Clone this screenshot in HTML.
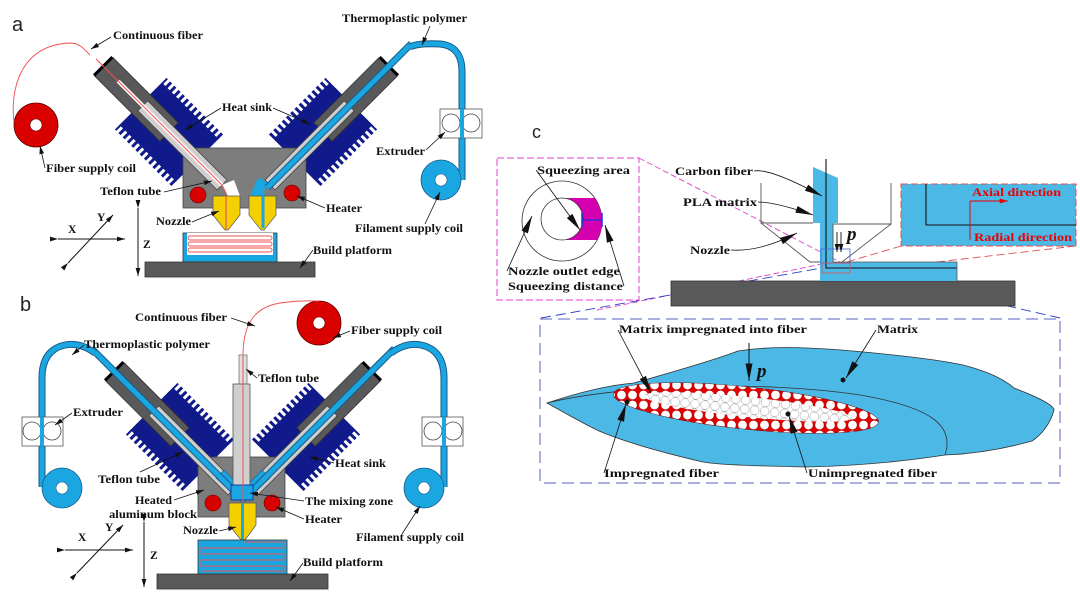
<!DOCTYPE html>
<html><head><meta charset="utf-8"><style>
html,body{margin:0;padding:0;background:#fff}
svg{display:block}
.t{font-family:"Liberation Serif",serif;font-weight:bold;font-size:11.5px;fill:#111}
.l{stroke:#111;stroke-width:0.8;fill:none}
</style></head><body>
<svg width="1080" height="597" viewBox="0 0 1080 597" xmlns="http://www.w3.org/2000/svg">
<defs>
<marker id="ah" viewBox="0 0 10 6" refX="10" refY="3" markerWidth="8" markerHeight="5" markerUnits="userSpaceOnUse" orient="auto"><path d="M0,0 L10,3 L0,6z" fill="#111"/></marker>
<marker id="wd" viewBox="0 0 20 8" refX="20" refY="4" markerWidth="20" markerHeight="7" markerUnits="userSpaceOnUse" orient="auto"><path d="M0,0 L20,4 L0,8z" fill="#111"/></marker>
<marker id="ra" viewBox="0 0 10 6" refX="10" refY="3" markerWidth="9" markerHeight="5" markerUnits="userSpaceOnUse" orient="auto"><path d="M0,0 L10,3 L0,6z" fill="#e00"/></marker>
<g id="sink">
 <rect x="35" y="-30" width="80" height="60" fill="#101a8a"/>
 <line x1="35" y1="-33" x2="115" y2="-33" stroke="#101a8a" stroke-width="7" stroke-dasharray="3 3"/>
 <line x1="35" y1="33" x2="115" y2="33" stroke="#101a8a" stroke-width="7" stroke-dasharray="3 3"/>
 <rect x="75" y="-13" width="92" height="26" fill="#595959" stroke="#333" stroke-width="0.8"/>
 <line x1="168" y1="-13" x2="168" y2="13" stroke="#000" stroke-width="3"/>
</g>
<g id="tube"><rect x="0" y="-7" width="112" height="14" fill="#cfcfcf" stroke="#444" stroke-width="0.8"/></g>
<g id="fil"><line x1="-4" y1="0" x2="200" y2="0" stroke="#1a5a8a" stroke-width="7"/><line x1="-4" y1="0" x2="200" y2="0" stroke="#1aa6e0" stroke-width="5"/></g>
<pattern id="dots" width="11" height="10" patternUnits="userSpaceOnUse"><rect width="11" height="10" fill="#e00000"/><circle cx="5.5" cy="5" r="4.6" fill="#fff" stroke="#900" stroke-width="0.4"/></pattern>
<pattern id="gdots" width="10" height="9" patternUnits="userSpaceOnUse"><rect width="10" height="9" fill="#fff"/><circle cx="5" cy="4.5" r="4.4" fill="#fff" stroke="#999" stroke-width="0.5"/></pattern>
</defs>

<!-- ============ PANEL A ============ -->
<text x="12" y="31" font-family="Liberation Sans,sans-serif" font-size="20" fill="#222">a</text>
<circle cx="36" cy="125" r="22" fill="#d90000" stroke="#600" stroke-width="0.8"/><circle cx="36" cy="125" r="6" fill="#fff" stroke="#600" stroke-width="0.6"/>
<path d="M14 122 C10 90 20 45 70 43 C80 43 85 50 90 55" fill="none" stroke="#f05050" stroke-width="0.9"/>
<use href="#sink" transform="translate(222,185) rotate(225)"/>
<use href="#sink" transform="translate(270,185) rotate(-45)"/>
<rect x="183" y="148" width="123" height="60" fill="#7d7d7d" stroke="#444" stroke-width="0.8"/>
<path d="M222 185 L228 196 L240 196 L234 180 Z" fill="#fff"/>
<path d="M250 196 L262 196 L268 182 L258 178 Z" fill="#1aa6e0"/>
<use href="#tube" transform="translate(222,185) rotate(225)"/>
<use href="#tube" transform="translate(270,185) rotate(-45)"/>
<line x1="222" y1="185" x2="118" y2="81" stroke="#fff" stroke-width="4"/>
<line x1="96" y1="59" x2="222" y2="185" stroke="#f05050" stroke-width="1"/>
<path d="M222 185 L226 193 L226 230" fill="none" stroke="#f05050" stroke-width="1"/>
<use href="#fil" transform="translate(270,185) rotate(-45)"/>
<path d="M410 47 Q418 43 440 44 Q462 46 462 72 L462 180" fill="none" stroke="#1a5a8a" stroke-width="7"/>
<path d="M410 47 Q418 43 440 44 Q462 46 462 72 L462 180" fill="none" stroke="#1aa6e0" stroke-width="5"/>
<line x1="263" y1="192" x2="263" y2="228" stroke="#1aa6e0" stroke-width="3"/>
<circle cx="198" cy="195" r="8" fill="#d90000" stroke="#600" stroke-width="0.6"/>
<circle cx="292" cy="193" r="8" fill="#d90000" stroke="#600" stroke-width="0.6"/>
<polygon points="213,196 240,196 240,215 228,230 225,230 213,215" fill="#f5d000" stroke="#555" stroke-width="0.7"/>
<line x1="226" y1="196" x2="226" y2="230" stroke="#f05050" stroke-width="1.2"/>
<polygon points="249,196 276,196 276,215 264,230 261,230 249,215" fill="#f5d000" stroke="#555" stroke-width="0.7"/>
<line x1="263" y1="196" x2="263" y2="228" stroke="#1aa6e0" stroke-width="3"/>
<rect x="440" y="109" width="42" height="29" fill="#fff" stroke="#555" stroke-width="0.8"/>
<circle cx="451" cy="123" r="9" fill="#fff" stroke="#444" stroke-width="0.8"/><circle cx="471" cy="123" r="9" fill="#fff" stroke="#444" stroke-width="0.8"/>
<line x1="462" y1="109" x2="462" y2="138" stroke="#1aa6e0" stroke-width="4"/>
<circle cx="441" cy="180" r="20" fill="#1aa6e0" stroke="#1a5a8a" stroke-width="0.8"/><circle cx="441" cy="180" r="6" fill="#fff" stroke="#1a5a8a" stroke-width="0.6"/>
<rect x="183" y="233" width="94" height="29" fill="#1aa6e0" stroke="#333" stroke-width="0.8"/>
<rect x="187" y="233" width="86" height="22" fill="#fff"/>
<rect x="188" y="236" width="84" height="4" rx="2" fill="none" stroke="#f05050" stroke-width="0.9"/>
<rect x="188" y="242" width="84" height="4" rx="2" fill="none" stroke="#f05050" stroke-width="0.9"/>
<rect x="188" y="248" width="84" height="4" rx="2" fill="none" stroke="#f05050" stroke-width="0.9"/>
<rect x="145" y="262" width="170" height="15" fill="#595959" stroke="#333" stroke-width="0.8"/>
<line x1="58" y1="239" x2="125" y2="239" stroke="#111" stroke-width="1" marker-start="url(#ah)" marker-end="url(#ah)"/>
<line x1="68" y1="263" x2="113" y2="215" stroke="#111" stroke-width="1" marker-start="url(#ah)" marker-end="url(#ah)"/>
<line x1="138" y1="208" x2="138" y2="276" stroke="#111" stroke-width="1" marker-start="url(#ah)" marker-end="url(#ah)"/>
<text class="t" x="68" y="233">X</text><text class="t" x="97" y="221">Y</text><text class="t" x="143" y="248">Z</text>
<text class="t" x="113" y="39" textLength="90" lengthAdjust="spacingAndGlyphs">Continuous fiber</text>
<line class="l" x1="111" y1="37" x2="91" y2="49" marker-end="url(#ah)"/>
<text class="t" x="342" y="22" textLength="125" lengthAdjust="spacingAndGlyphs">Thermoplastic polymer</text>
<line class="l" x1="430" y1="26" x2="422" y2="45" marker-end="url(#ah)"/>
<text class="t" x="222" y="111" textLength="50" lengthAdjust="spacingAndGlyphs">Heat sink</text>
<line class="l" x1="221" y1="108" x2="185" y2="130" marker-end="url(#ah)"/>
<line class="l" x1="273" y1="108" x2="310" y2="124" marker-end="url(#ah)"/>
<text class="t" x="46" y="172" textLength="90" lengthAdjust="spacingAndGlyphs">Fiber supply coil</text>
<line class="l" x1="45" y1="168" x2="40" y2="146" marker-end="url(#ah)"/>
<text class="t" x="100" y="195" textLength="61" lengthAdjust="spacingAndGlyphs">Teflon tube</text>
<line class="l" x1="164" y1="192" x2="212" y2="181" marker-end="url(#ah)"/>
<text class="t" x="156" y="225" textLength="35" lengthAdjust="spacingAndGlyphs">Nozzle</text>
<line class="l" x1="192" y1="222" x2="219" y2="211" marker-end="url(#ah)"/>
<text class="t" x="326" y="212" textLength="36" lengthAdjust="spacingAndGlyphs">Heater</text>
<line class="l" x1="325" y1="208" x2="297" y2="196" marker-end="url(#ah)"/>
<text class="t" x="376" y="155" textLength="49" lengthAdjust="spacingAndGlyphs">Extruder</text>
<line class="l" x1="426" y1="150" x2="445" y2="132" marker-end="url(#ah)"/>
<text class="t" x="355" y="232" textLength="108" lengthAdjust="spacingAndGlyphs">Filament supply coil</text>
<line class="l" x1="425" y1="224" x2="440" y2="192" marker-end="url(#ah)"/>
<text class="t" x="313" y="254" textLength="79" lengthAdjust="spacingAndGlyphs">Build platform</text>
<line class="l" x1="313" y1="250" x2="300" y2="268" marker-end="url(#ah)"/>

<!-- ============ PANEL B ============ -->
<text x="20" y="311" font-family="Liberation Sans,sans-serif" font-size="20" fill="#222">b</text>
<circle cx="319" cy="323" r="22" fill="#d90000" stroke="#600" stroke-width="0.8"/><circle cx="319" cy="323" r="6" fill="#fff" stroke="#600" stroke-width="0.6"/>
<path d="M243 356 C243 330 250 308 280 303 C300 300 310 301 319 301" fill="none" stroke="#f05050" stroke-width="0.9"/>
<use href="#sink" transform="translate(233,490) rotate(225)"/>
<use href="#sink" transform="translate(253,490) rotate(-45)"/>
<rect x="198" y="457" width="87" height="60" fill="#7d7d7d" stroke="#444" stroke-width="0.8"/>
<use href="#tube" transform="translate(233,490) rotate(225)"/>
<use href="#tube" transform="translate(253,490) rotate(-45)"/>
<polygon points="216,478 243,503 270,478 262,470 243,490 224,470" fill="#1aa6e0" stroke="#1a5a8a" stroke-width="0.6"/>
<use href="#fil" transform="translate(233,490) rotate(225)"/>
<use href="#fil" transform="translate(253,490) rotate(-45)"/>
<path d="M95 353 Q80 342 65 345 Q42 350 42 378 L42 487" fill="none" stroke="#1a5a8a" stroke-width="7"/>
<path d="M95 353 Q80 342 65 345 Q42 350 42 378 L42 487" fill="none" stroke="#1aa6e0" stroke-width="5"/>
<path d="M391 353 Q406 342 421 345 Q444 350 444 378 L444 487" fill="none" stroke="#1a5a8a" stroke-width="7"/>
<path d="M391 353 Q406 342 421 345 Q444 350 444 378 L444 487" fill="none" stroke="#1aa6e0" stroke-width="5"/>
<rect x="239" y="355" width="8" height="30" fill="#e0e0e0" stroke="#666" stroke-width="0.7"/>
<rect x="233" y="384" width="17" height="104" fill="#cfcfcf" stroke="#555" stroke-width="0.8"/>
<rect x="231" y="485" width="22" height="15" fill="#1aa6e0" stroke="#1030a0" stroke-width="0.9"/>
<line x1="243" y1="356" x2="243" y2="540" stroke="#f05050" stroke-width="1"/>
<circle cx="213" cy="503" r="8" fill="#d90000" stroke="#600" stroke-width="0.6"/>
<circle cx="272" cy="503" r="8" fill="#d90000" stroke="#600" stroke-width="0.6"/>
<polygon points="229,503 256,503 256,525 245,540 241,540 229,525" fill="#f5d000" stroke="#555" stroke-width="0.7"/>
<line x1="242.5" y1="503" x2="242.5" y2="540" stroke="#1aa6e0" stroke-width="3"/>
<rect x="22" y="417" width="41" height="29" fill="#fff" stroke="#555" stroke-width="0.8"/>
<circle cx="32" cy="431" r="9" fill="#fff" stroke="#444" stroke-width="0.8"/><circle cx="52" cy="431" r="9" fill="#fff" stroke="#444" stroke-width="0.8"/>
<line x1="42" y1="417" x2="42" y2="446" stroke="#1aa6e0" stroke-width="4"/>
<rect x="422" y="417" width="41" height="29" fill="#fff" stroke="#555" stroke-width="0.8"/>
<circle cx="433" cy="431" r="9" fill="#fff" stroke="#444" stroke-width="0.8"/><circle cx="453" cy="431" r="9" fill="#fff" stroke="#444" stroke-width="0.8"/>
<line x1="444" y1="417" x2="444" y2="446" stroke="#1aa6e0" stroke-width="4"/>
<circle cx="62" cy="488" r="20" fill="#1aa6e0" stroke="#1a5a8a" stroke-width="0.8"/><circle cx="62" cy="488" r="6" fill="#fff" stroke="#1a5a8a" stroke-width="0.6"/>
<circle cx="424" cy="488" r="20" fill="#1aa6e0" stroke="#1a5a8a" stroke-width="0.8"/><circle cx="424" cy="488" r="6" fill="#fff" stroke="#1a5a8a" stroke-width="0.6"/>
<rect x="198" y="540" width="89" height="34" fill="#1aa6e0" stroke="#333" stroke-width="0.8"/>
<path d="M243 542 L284 542 L284 548 L201 548 L201 554 L284 554 L284 560 L201 560 L201 566 L284 566 L284 571 L201 571" fill="none" stroke="#f05050" stroke-width="0.9"/>
<rect x="157" y="574" width="171" height="15" fill="#595959" stroke="#333" stroke-width="0.8"/>
<line x1="65" y1="550" x2="133" y2="550" stroke="#111" stroke-width="1" marker-start="url(#ah)" marker-end="url(#ah)"/>
<line x1="77" y1="573" x2="123" y2="525" stroke="#111" stroke-width="1" marker-start="url(#ah)" marker-end="url(#ah)"/>
<line x1="144" y1="522" x2="144" y2="587" stroke="#111" stroke-width="1" marker-start="url(#ah)" marker-end="url(#ah)"/>
<text class="t" x="78" y="541">X</text><text class="t" x="105" y="531">Y</text><text class="t" x="150" y="559">Z</text>
<text class="t" x="135" y="321" textLength="92" lengthAdjust="spacingAndGlyphs">Continuous fiber</text>
<line class="l" x1="231" y1="318" x2="255" y2="326" marker-end="url(#ah)"/>
<text class="t" x="351" y="334" textLength="91" lengthAdjust="spacingAndGlyphs">Fiber supply coil</text>
<line class="l" x1="350" y1="331" x2="333" y2="338" marker-end="url(#ah)"/>
<text class="t" x="84" y="348" textLength="126" lengthAdjust="spacingAndGlyphs">Thermoplastic polymer</text>
<line class="l" x1="84" y1="345" x2="72" y2="355" marker-end="url(#ah)"/>
<text class="t" x="258" y="382" textLength="61" lengthAdjust="spacingAndGlyphs">Teflon tube</text>
<line class="l" x1="257" y1="378" x2="246" y2="369" marker-end="url(#ah)"/>
<text class="t" x="73" y="416" textLength="50" lengthAdjust="spacingAndGlyphs">Extruder</text>
<line class="l" x1="72" y1="413" x2="55" y2="425" marker-end="url(#ah)"/>
<text class="t" x="335" y="467" textLength="51" lengthAdjust="spacingAndGlyphs">Heat sink</text>
<line class="l" x1="334" y1="463" x2="310" y2="457" marker-end="url(#ah)"/>
<text class="t" x="98" y="483" textLength="62" lengthAdjust="spacingAndGlyphs">Teflon tube</text>
<line class="l" x1="140" y1="472" x2="183" y2="452" marker-end="url(#ah)"/>
<text class="t" x="135" y="504" textLength="37" lengthAdjust="spacingAndGlyphs">Heated</text>
<text class="t" x="109" y="518" textLength="88" lengthAdjust="spacingAndGlyphs">aluminum block</text>
<line class="l" x1="174" y1="500" x2="204" y2="490" marker-end="url(#ah)"/>
<text class="t" x="305" y="505" textLength="88" lengthAdjust="spacingAndGlyphs">The mixing zone</text>
<line class="l" x1="304" y1="501" x2="250" y2="493" marker-end="url(#ah)"/>
<text class="t" x="305" y="523" textLength="37" lengthAdjust="spacingAndGlyphs">Heater</text>
<line class="l" x1="304" y1="519" x2="276" y2="507" marker-end="url(#ah)"/>
<text class="t" x="183" y="534" textLength="35" lengthAdjust="spacingAndGlyphs">Nozzle</text>
<line class="l" x1="219" y1="531" x2="236" y2="527" marker-end="url(#ah)"/>
<text class="t" x="356" y="541" textLength="108" lengthAdjust="spacingAndGlyphs">Filament supply coil</text>
<line class="l" x1="402" y1="534" x2="420" y2="506" marker-end="url(#ah)"/>
<text class="t" x="303" y="566" textLength="80" lengthAdjust="spacingAndGlyphs">Build platform</text>
<line class="l" x1="303" y1="563" x2="290" y2="581" marker-end="url(#ah)"/>

<!-- ============ PANEL C ============ -->
<text x="532" y="138" font-family="Liberation Sans,sans-serif" font-size="18" fill="#222">c</text>
<line x1="639" y1="158" x2="840" y2="262" stroke="#e040d0" stroke-width="0.9" stroke-dasharray="6 3"/>
<line x1="597" y1="310" x2="822" y2="264" stroke="#e040d0" stroke-width="0.9" stroke-dasharray="6 3"/>
<line x1="541" y1="318" x2="822" y2="268" stroke="#3040c0" stroke-width="0.9" stroke-dasharray="10 5"/>
<line x1="1060" y1="318" x2="852" y2="270" stroke="#3040c0" stroke-width="0.9" stroke-dasharray="10 5"/>
<line x1="901" y1="246" x2="840" y2="264" stroke="#e05050" stroke-width="0.9" stroke-dasharray="8 4"/>
<line x1="1076" y1="246" x2="850" y2="272" stroke="#e05050" stroke-width="0.9" stroke-dasharray="8 4"/>
<rect x="497" y="158" width="142" height="142" fill="#fff" stroke="#e040d0" stroke-width="1" stroke-dasharray="7 3"/>
<circle cx="562" cy="221" r="40" fill="#fff" stroke="#333" stroke-width="0.8"/>
<clipPath id="oc"><circle cx="562" cy="221" r="40"/></clipPath>
<path d="M562 198 L602 198 L602 240 L562 240 Z" fill="#d400b0" clip-path="url(#oc)"/>
<circle cx="562" cy="219" r="21" fill="#fff" stroke="#333" stroke-width="0.8"/>
<line x1="582" y1="220" x2="602" y2="220" stroke="#2030e0" stroke-width="1.2"/>
<line x1="582" y1="213" x2="582" y2="227" stroke="#2030e0" stroke-width="1.5"/>
<line x1="602" y1="213" x2="602" y2="227" stroke="#2030e0" stroke-width="1.5"/>
<text class="t" x="537" y="174" textLength="93" lengthAdjust="spacingAndGlyphs">Squeezing area</text>
<line class="l" x1="536" y1="170" x2="580" y2="230" marker-end="url(#wd)"/>
<text class="t" x="508" y="275" textLength="112" lengthAdjust="spacingAndGlyphs">Nozzle outlet edge</text>
<line class="l" x1="507" y1="271" x2="532" y2="216" marker-end="url(#wd)"/>
<text class="t" x="508" y="290" textLength="115" lengthAdjust="spacingAndGlyphs">Squeezing distance</text>
<line class="l" x1="624" y1="286" x2="605" y2="225" marker-end="url(#wd)"/>
<rect x="671" y="281" width="344" height="25" fill="#595959" stroke="#333" stroke-width="0.8"/>
<polygon points="813,167 838,178 838,223 833,223 833,262 957,262 957,281 820,281 820,223 813,223" fill="#4bb8e6"/>
<polyline points="826,159 826,268 957,268" fill="none" stroke="#111" stroke-width="1.1"/>
<line x1="833" y1="262" x2="957" y2="262" stroke="#555" stroke-width="0.8"/>
<line x1="957" y1="262" x2="957" y2="281" stroke="#555" stroke-width="0.8"/>
<polyline points="761,183 761,223 813,223" fill="none" stroke="#555" stroke-width="0.9"/>
<polyline points="761,223 810,262 820,262" fill="none" stroke="#555" stroke-width="0.9"/>
<polyline points="891,183 891,224 833,224 833,262" fill="none" stroke="#555" stroke-width="0.9"/>
<line x1="891" y1="224" x2="842" y2="262" stroke="#555" stroke-width="0.9"/>
<rect x="821" y="249" width="29" height="14" fill="none" stroke="#5060e0" stroke-width="0.8"/>
<rect x="822" y="263" width="28" height="10" fill="none" stroke="#e05050" stroke-width="0.8"/>
<line x1="837" y1="232" x2="837" y2="252" stroke="#111" stroke-width="0.9" marker-end="url(#ah)"/>
<line x1="841" y1="232" x2="841" y2="252" stroke="#111" stroke-width="0.9" marker-end="url(#ah)"/>
<text x="847" y="240" font-family="Liberation Serif,serif" font-weight="bold" font-style="italic" font-size="19" fill="#111">p</text>
<text class="t" x="675" y="175" textLength="78" lengthAdjust="spacingAndGlyphs">Carbon fiber</text>
<path class="l" d="M754 171 Q770 168 822 196" marker-end="url(#wd)"/>
<text class="t" x="683" y="206" textLength="74" lengthAdjust="spacingAndGlyphs">PLA matrix</text>
<path class="l" d="M758 202 Q775 202 813 215" marker-end="url(#wd)"/>
<text class="t" x="690" y="254" textLength="40" lengthAdjust="spacingAndGlyphs">Nozzle</text>
<path class="l" d="M731 250 Q760 252 797 233" marker-end="url(#wd)"/>
<rect x="901" y="184" width="175" height="62" fill="#4bb8e6" stroke="#e05050" stroke-width="1" stroke-dasharray="7 3"/>
<polyline points="926,184 926,225 1076,225" fill="none" stroke="#111" stroke-width="1.1"/>
<line x1="970" y1="240" x2="970" y2="201" stroke="#e00" stroke-width="1"/>
<line x1="970" y1="201" x2="1008" y2="201" stroke="#e00" stroke-width="1" marker-end="url(#ra)"/>
<text x="972" y="196" font-family="Liberation Serif,serif" font-weight="bold" font-size="12" fill="#e00" textLength="89" lengthAdjust="spacingAndGlyphs">Axial direction</text>
<text x="974" y="241" font-family="Liberation Serif,serif" font-weight="bold" font-size="12" fill="#e00" textLength="98" lengthAdjust="spacingAndGlyphs">Radial direction</text>
<rect x="540" y="319" width="520" height="164" fill="none" stroke="#5560c0" stroke-width="1" stroke-dasharray="12 6"/>
<path d="M547 403 C580 392 610 385 634 383 C680 370 720 358 738 351 C770 346 800 347 841 350 C900 355 940 360 963 365 C990 372 1005 380 1014 388 C1035 396 1054 405 1054 410 C1050 425 1040 436 1032 441 C1000 450 970 454 945 455 C900 462 850 466 807 467 C760 466 720 465 703 462 C660 452 625 442 599 431 C580 422 560 410 547 403 Z" fill="#4bb8e6" stroke="#333" stroke-width="0.8"/>
<path d="M547 403 C620 385 760 380 860 395 C930 407 955 425 945 455" fill="none" stroke="#333" stroke-width="0.8"/>
<clipPath id="ell"><ellipse cx="746" cy="408" rx="133" ry="21" transform="rotate(6 746 408)"/></clipPath>
<ellipse cx="746" cy="408" rx="133" ry="21" transform="rotate(6 746 408)" fill="#e00000" stroke="#600" stroke-width="0.8"/>
<rect x="600" y="380" width="290" height="60" fill="url(#dots)" clip-path="url(#ell)"/>
<ellipse cx="748" cy="407" rx="105" ry="10" transform="rotate(6 748 407)" fill="url(#gdots)"/>
<text class="t" x="619" y="333" textLength="188" lengthAdjust="spacingAndGlyphs">Matrix impregnated into fiber</text>
<line class="l" x1="618" y1="330" x2="651" y2="393" marker-end="url(#wd)"/>
<line x1="749" y1="343" x2="749" y2="381" stroke="#111" stroke-width="1" marker-end="url(#wd)"/>
<text x="757" y="377" font-family="Liberation Serif,serif" font-weight="bold" font-style="italic" font-size="19" fill="#111">p</text>
<text class="t" x="877" y="333" textLength="41" lengthAdjust="spacingAndGlyphs">Matrix</text>
<line class="l" x1="876" y1="330" x2="846" y2="378" marker-end="url(#wd)"/>
<circle cx="843" cy="380" r="2.5" fill="#111"/>
<circle cx="627" cy="402" r="2.5" fill="#111"/>
<line class="l" x1="604" y1="473" x2="626" y2="404" marker-end="url(#wd)"/>
<text class="t" x="604" y="477" textLength="115" lengthAdjust="spacingAndGlyphs">Impregnated fiber</text>
<circle cx="788" cy="414" r="2.5" fill="#111"/>
<line class="l" x1="807" y1="473" x2="789" y2="416" marker-end="url(#wd)"/>
<text class="t" x="808" y="477" textLength="129" lengthAdjust="spacingAndGlyphs">Unimpregnated fiber</text>
</svg>
</body></html>
